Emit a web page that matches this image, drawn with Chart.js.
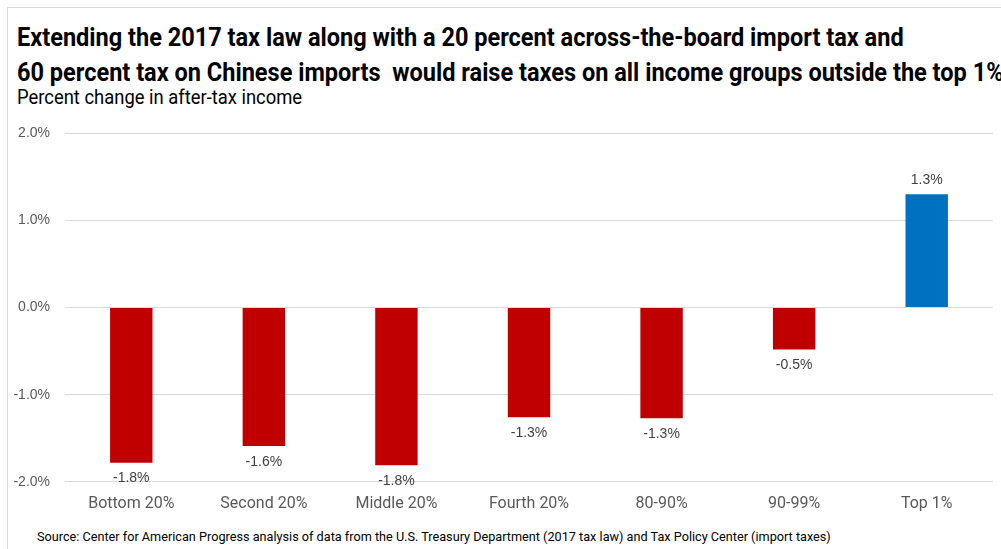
<!DOCTYPE html>
<html>
<head>
<meta charset="utf-8">
<script src="https://cdn.jsdelivr.net/npm/chart.js@4.4.1/dist/chart.umd.min.js"></script>
<style>
  html, body { margin: 0; padding: 0; background: #fff; }
  body { width: 1001px; height: 549px; position: relative; overflow: hidden; }
  .frame { position: absolute; left: 7px; top: 7px; right: -2px; bottom: -2px;
           border-left: 1px solid #d9d9d9; border-top: 1px solid #d9d9d9; }
  .clip { position: absolute; left: 0; top: 0; width: 1001px; height: 120px; overflow: hidden; }
  .title { position: absolute; left: 17px; top: 20px; white-space: nowrap;
           font-family: Roboto, sans-serif; font-weight: bold; font-size: 26px; line-height: 35px;
           color: #000; transform: scaleX(0.905); transform-origin: left top; }
  .subtitle { position: absolute; left: 17px; top: 85px; white-space: nowrap; font-family: Roboto, sans-serif;
              font-size: 20px; color: #000; transform: scaleX(0.92); transform-origin: left top; }
  .source { position: absolute; left: 37px; top: 529px; white-space: nowrap; font-family: Roboto, sans-serif;
            font-size: 13px; color: #000; transform: scaleX(0.975); transform-origin: left top; }
  #wrap { position: absolute; left: 0; top: 110px; width: 1001px; height: 409px; }
</style>
</head>
<body>
<div class="frame"></div>
<div class="clip">
  <div class="title">Extending the 2017 tax law along with a 20 percent across-the-board import tax and<br>60 percent tax on Chinese imports&nbsp; would raise taxes on all income groups outside the top 1%</div>
  <div class="subtitle">Percent change in after-tax income</div>
</div>
<div id="wrap"><canvas id="chart"></canvas></div>
<div class="source">Source: Center for American Progress analysis of data from the U.S. Treasury Department (2017 tax law) and Tax Policy Center (import taxes)</div>
<script>
// Income groups and the percent change in after-tax income for each.
const groups = ['Bottom 20%', 'Second 20%', 'Middle 20%', 'Fourth 20%', '80-90%', '90-99%', 'Top 1%'];
const changes = [-1.78, -1.59, -1.81, -1.26, -1.27, -0.48, 1.3];
const yTicks = [-2, -1, 0, 1, 2];

const RED = '#C00000';
const BLUE = '#0070C0';

// Value labels under negative bars, above positive ones.
const valueLabels = {
    id: 'valueLabels',
    afterDatasetsDraw(chart) {
        const ctx = chart.ctx;
        const meta = chart.getDatasetMeta(0);
        ctx.save();
        ctx.font = '14px "Liberation Sans", Arial, sans-serif';
        ctx.fillStyle = '#404040';
        ctx.textAlign = 'center';
        ctx.textBaseline = 'middle';
        meta.data.forEach((bar, i) => {
            const v = changes[i];
            const y = v < 0 ? bar.y + 16 : bar.y - 14;
            ctx.fillText(v.toFixed(1) + '%', bar.x, y);
        });
        ctx.restore();
    },
};

new Chart(document.getElementById('chart'), {
    type: 'bar',
    data: {
        labels: groups,
        datasets: [{
            data: changes,
            backgroundColor: changes.map((v) => (v < 0 ? RED : BLUE)),
            borderWidth: 0,
            barPercentage: 0.32,
            categoryPercentage: 1,
        }],
    },
    options: {
        responsive: true,
        maintainAspectRatio: false,
        animation: false,
        layout: { padding: { top: 2, right: 8, left: 0, bottom: 0 } },
        plugins: { legend: { display: false }, tooltip: { enabled: false }, title: { display: false } },
        scales: {
            x: {
                grid: { display: false },
                border: { display: false },
                ticks: {
                    color: '#595959',
                    padding: 5,
                    maxRotation: 0,
                    font: { family: 'Roboto, sans-serif', size: 16 },
                },
            },
            y: {
                min: yTicks[0],
                max: yTicks[yTicks.length - 1],
                afterBuildTicks: (axis) => { axis.ticks = yTicks.map((v) => ({ value: v })); },
                afterFit: (axis) => { axis.width = 65; },
                grid: { color: '#d9d9d9', drawTicks: false, lineWidth: 1 },
                border: { display: false },
                ticks: {
                    color: '#595959',
                    padding: 15,
                    font: { family: '"Liberation Sans", Arial, sans-serif', size: 14 },
                    callback: (v) => v.toFixed(1) + '%',
                },
            },
        },
    },
    plugins: [valueLabels],
});
</script>
</body>
</html>
